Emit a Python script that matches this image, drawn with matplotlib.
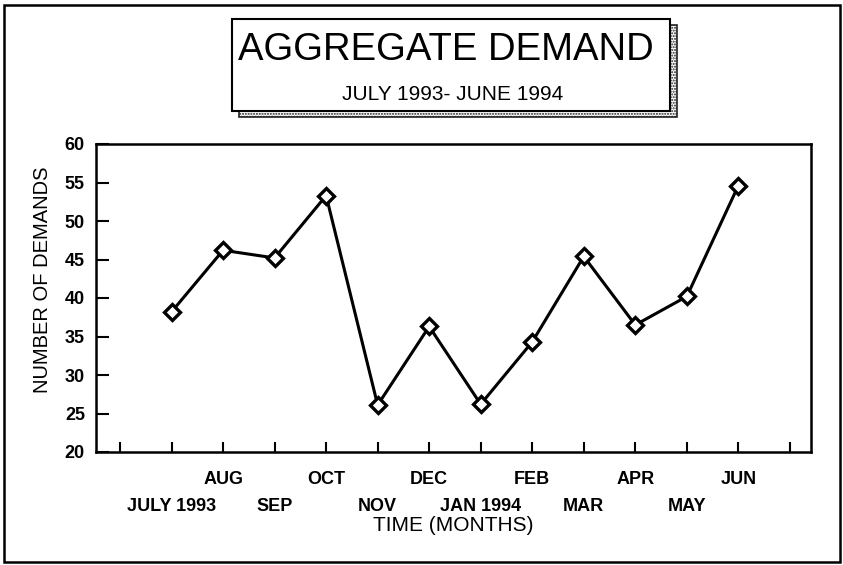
import matplotlib
matplotlib.use("Agg")
import matplotlib.pyplot as plt
from matplotlib.patches import Rectangle
import numpy as np

plt.rcParams["font.family"] = ["Liberation Sans", "DejaVu Sans"]

# data
months = ["JULY 1993", "AUG", "SEP", "OCT", "NOV", "DEC",
          "JAN 1994", "FEB", "MAR", "APR", "MAY", "JUN"]
demands = [38.2, 46.2, 45.2, 53.3, 26.1, 36.3,
           26.2, 34.3, 45.4, 36.5, 40.2, 54.6]
y_ticks = [20, 25, 30, 35, 40, 45, 50, 55, 60]

W, H = 843, 565
fig = plt.figure(figsize=(W / 100, H / 100), dpi=100)

# outer frame
fig.patches.append(Rectangle((4 / W, 3 / H), 836 / W, 557 / H,
                             transform=fig.transFigure, fill=False,
                             edgecolor="black", linewidth=1.8))

# title box with stippled shadow
bx, by, bw, bh = 232, 19, 438, 92
fig.patches.append(Rectangle(((bx + 7) / W, 1 - (by + bh + 6) / H), bw / W, bh / H,
                             transform=fig.transFigure, facecolor="white",
                             hatch="......", edgecolor="#222222", linewidth=1.2))
fig.patches.append(Rectangle((bx / W, 1 - (by + bh) / H), bw / W, bh / H,
                             transform=fig.transFigure, facecolor="white",
                             edgecolor="black", linewidth=1.5))
fig.text(446 / W, 1 - 60 / H, "AGGREGATE DEMAND", ha="center", va="baseline",
         fontsize=27.5)
fig.text(453 / W, 1 - 100 / H, "JULY 1993- JUNE 1994", ha="center", va="baseline",
         fontsize=15)

# axes
ax = fig.add_axes([96 / W, 113 / H, 715 / W, 308 / H])
x = np.arange(1, len(months) + 1)
ax.plot(x, demands, color="black", linewidth=2.2, marker="D", markersize=8,
        markerfacecolor="white", markeredgecolor="black", markeredgewidth=2.4,
        zorder=3)

ax.set_xlim(-0.466, 13.41)
ax.set_ylim(20, 60)
ax.set_yticks(y_ticks)
ax.set_yticklabels([str(v) for v in y_ticks], fontsize=13, fontweight="bold")

# tick marks at every slot, upper-row labels on major ticks, lower row on minor
ticks = np.arange(0, len(months) + 2)
upper = [""] + [m if i % 2 == 1 else "" for i, m in enumerate(months)] + [""]
ax.set_xticks(ticks)
ax.set_xticklabels(upper, fontsize=13, fontweight="bold")
ax.xaxis.remove_overlapping_locs = False
ax.set_xticks(x[0::2], minor=True)
ax.set_xticklabels(months[0::2], minor=True, fontsize=13, fontweight="bold")

ax.tick_params(axis="y", direction="in", length=9, width=1.5, pad=8)
ax.tick_params(axis="x", which="major", direction="in", length=7, width=1.5, pad=14)
ax.tick_params(axis="x", which="minor", length=0, pad=33)
for s in ax.spines.values():
    s.set_linewidth(1.8)

ax.set_ylabel("NUMBER OF DEMANDS", fontsize=14.5)
ax.yaxis.set_label_coords(-0.062, 0.56)
ax.set_xlabel("TIME (MONTHS)", fontsize=15)
ax.xaxis.set_label_coords(0.5, -0.207)

fig.savefig("out.png", dpi=100)
